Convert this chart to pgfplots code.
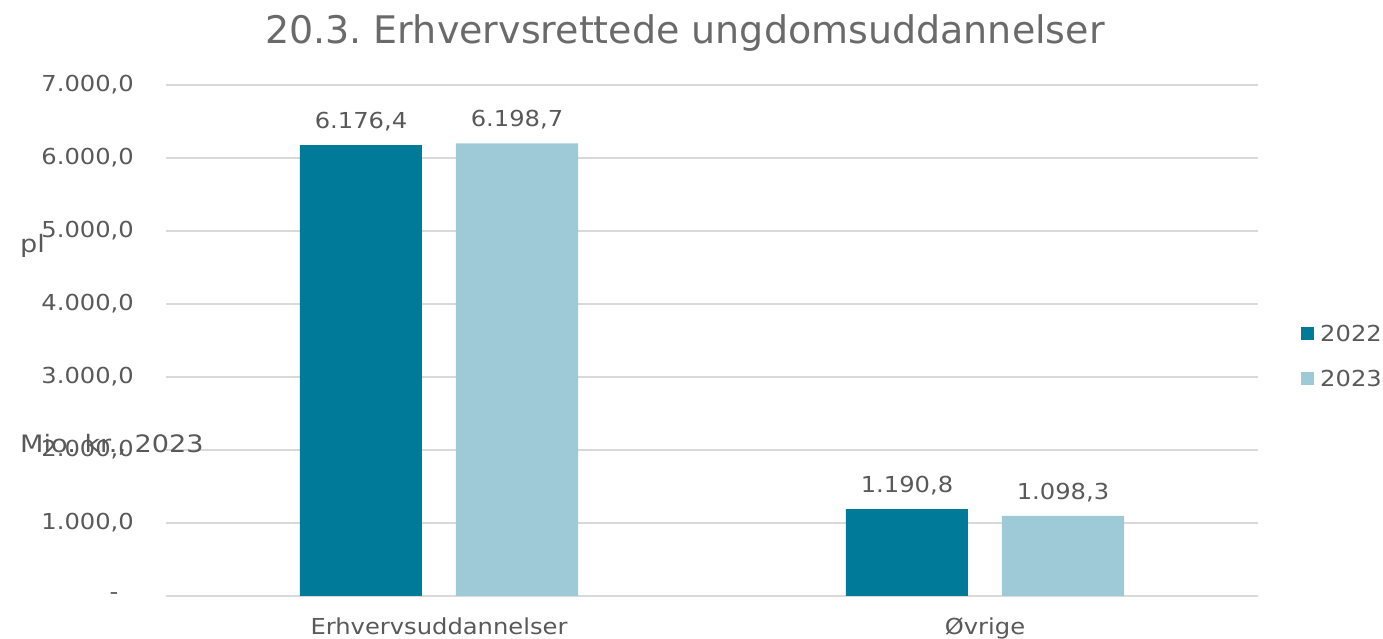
\documentclass[border=0pt]{standalone}
\usepackage{pgfplots}
\pgfplotsset{compat=1.18}
\usepackage{fontspec}
\setmainfont{DejaVu Sans}
\newfontfamily\widefont[FakeStretch=1.1]{DejaVu Sans}
\newfontfamily\widerfont[FakeStretch=1.13]{DejaVu Sans}
\definecolor{darkteal}{HTML}{007A99}
\definecolor{lightteal}{HTML}{9DCAD6}
\definecolor{txt}{HTML}{595959}
\definecolor{gridc}{HTML}{D9D9D9}
\pgfplotsset{/pgf/number format/assume math mode=true}
\begin{document}
\frenchspacing
\begin{tikzpicture}
\useasboundingbox (0,0) rectangle (1383pt,639pt);
\begin{axis}[
  at={(166pt,43pt)}, anchor=south west,
  scale only axis, width=1092pt, height=511pt,
  ybar, bar width=122pt,
  xmin=-0.5, xmax=1.5, ymin=0, ymax=7000,
  xtick={0,1}, xticklabels={Erhvervsuddannelser,{Øvrige}},
  ytick={0,1000,2000,3000,4000,5000,6000,7000},
  yticklabels={{-\hphantom{0}},{1.000,0},{2.000,0},{3.000,0},{4.000,0},{5.000,0},{6.000,0},{7.000,0}},
  axis line style={draw=none},
  major tick style={draw=none},
  ymajorgrids, grid style={gridc, line width=1.5pt},
  ticklabel style={font=\widefont\fontsize{22}{26}\selectfont, text=txt},
  yticklabel style={inner sep=0pt, xshift=-32pt},
  xticklabel style={inner sep=0pt, yshift=-17pt},
  nodes near coords={\pgfmathprintnumber[fixed,fixed zerofill,precision=1,use comma,1000 sep={.}]{\pgfplotspointmeta}},
  nodes near coords style={font=\widefont\fontsize{22}{26}\selectfont, text=txt, inner sep=0pt, anchor=south, yshift=14pt},
  legend style={at={(rel axis cs:1.0394,0.469)}, anchor=west, draw=none, fill=none,
    font=\widefont\fontsize{22}{26}\selectfont, text=txt, inner sep=0pt,
    row sep=29pt,
    nodes={inner sep=0pt, text height=16pt, text depth=0pt}},
  legend cell align=left,
  legend image code/.code={\fill[#1] (0pt,-6.5pt) rectangle (13pt,6.5pt); \path (19pt,0pt);},
]
\addplot[fill=darkteal, draw=none, bar shift=-78pt] coordinates {(0,6176.4) (1,1190.8)};
\addplot[fill=lightteal, draw=none, bar shift=78pt] coordinates {(0,6198.7) (1,1098.3)};
\legend{2022,2023}
\end{axis}
\node[anchor=base, text=txt!90!white, font=\fontsize{38}{44}\selectfont] at (685pt,595pt) {20.3. Erhvervsrettede ungdomsuddannelser};
\node[anchor=base west, inner sep=0pt, text=txt, font=\widerfont\fontsize{24}{28}\selectfont] at (20pt,386pt) {pl};
\node[anchor=base west, inner sep=0pt, text=txt, font=\widerfont\fontsize{24}{28}\selectfont] at (20pt,186pt) {Mio. kr., 2023};
\end{tikzpicture}
\end{document}
